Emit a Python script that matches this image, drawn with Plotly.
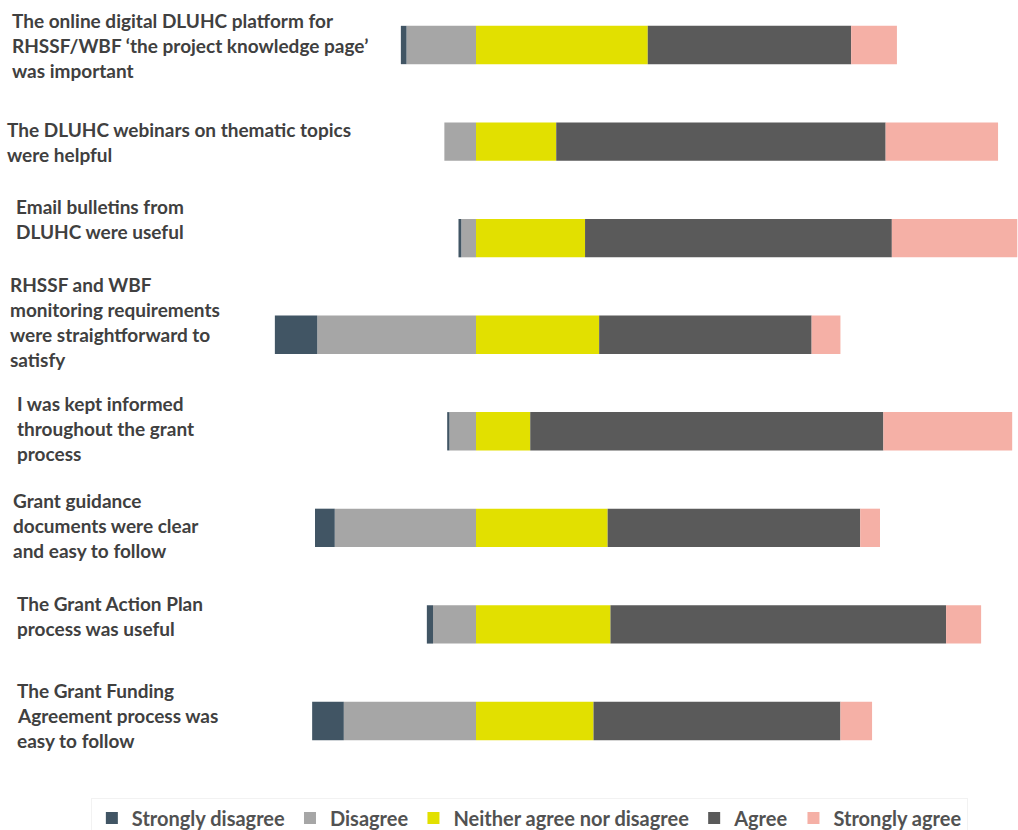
import plotly.graph_objects as go

# Survey statements (top to bottom) and response shares in percent
statements = [
    "The online digital DLUHC platform for<br>RHSSF/WBF ‘the project knowledge page’<br>was important",
    "The DLUHC webinars on thematic topics<br>were helpful",
    "Email bulletins from<br>DLUHC were useful",
    "RHSSF and WBF<br>monitoring requirements<br>were straightforward to<br>satisfy",
    "I was kept informed<br>throughout the grant<br>process",
    "Grant guidance<br>documents were clear<br>and easy to follow",
    "The Grant Action Plan<br>process was useful",
    "The Grant Funding<br>Agreement process was<br>easy to follow",
]

strongly_disagree = [1.0, 0.0, 0.5, 7.5, 0.4, 3.5, 1.1, 5.6]
disagree = [12.3, 5.6, 2.6, 28.1, 4.7, 25.0, 7.6, 23.4]
neither = [30.4, 14.2, 19.3, 21.8, 9.6, 23.3, 23.8, 20.8]
agree = [36.0, 58.3, 54.3, 37.6, 62.5, 44.7, 59.4, 43.7]
strongly_agree = [8.1, 19.9, 22.2, 5.1, 22.8, 3.5, 6.2, 5.6]

series_names = ["Strongly disagree", "Disagree", "Neither agree nor disagree",
                "Agree", "Strongly agree"]

colors = {
    "Strongly disagree": "#415564",
    "Disagree": "#a6a6a6",
    "Neither agree nor disagree": "#e2e000",
    "Agree": "#5a5a5a",
    "Strongly agree": "#f5b0a6",
}

W, H = 1018, 830
cats = list(range(len(statements)))

fig = go.Figure()

# Disagreement stacks to the left of zero (Disagree nearest the centre)
left = [("Disagree", disagree), ("Strongly disagree", strongly_disagree)]
right = [("Neither agree nor disagree", neither), ("Agree", agree),
         ("Strongly agree", strongly_agree)]

for name, vals in left:
    fig.add_trace(go.Bar(
        y=cats, x=[-v for v in vals], orientation="h", name=name,
        marker=dict(color=colors[name], line=dict(width=0)),
        legendrank=series_names.index(name) + 1,
        hoverinfo="skip",
    ))
for name, vals in right:
    fig.add_trace(go.Bar(
        y=cats, x=vals, orientation="h", name=name,
        marker=dict(color=colors[name], line=dict(width=0)),
        legendrank=series_names.index(name) + 1,
        hoverinfo="skip",
    ))

# Axis scaling: zero line at x=476 px, 5.65 px per percent
px_per_pct = 5.65
zero_px = 476
x_range = [-zero_px / px_per_pct, (W - zero_px) / px_per_pct]

# Category spacing and first bar centre in pixels
row_px = 96.57
first_px = 45
y_range = [(H - first_px) / row_px, -first_px / row_px]

# Statement labels, one annotation per line
label_left = [10, 5, 14, 8, 15, 11, 15, 15]
label_top = [20.7, 129.3, 206.7, 284.3, 403.3, 500, 603.3, 690]
line_px = 25

annotations = []
for text, lx, ty in zip(statements, label_left, label_top):
    for i, line in enumerate(text.split("<br>")):
        annotations.append(dict(
            text=line, xref="paper", yref="paper",
            x=lx / W, y=1 - (ty + i * line_px) / H,
            xanchor="left", yanchor="middle", showarrow=False, align="left",
            font=dict(family="Lato", size=19, color="#404040", weight=700),
        ))

fig.update_layout(
    width=W, height=H,
    margin=dict(l=0, r=0, t=0, b=0, autoexpand=False),
    barmode="relative",
    bargap=0.603,
    plot_bgcolor="white",
    paper_bgcolor="white",
    xaxis=dict(range=x_range, visible=False, fixedrange=True),
    yaxis=dict(range=y_range, visible=False, fixedrange=True),
    annotations=annotations,
    showlegend=True,
    legend=dict(
        orientation="h", x=0.520, xanchor="center", y=1 - 818 / H,
        yanchor="middle",
        font=dict(family="Lato", size=20, color="#525252", weight=700),
        bordercolor="#f2f2f2", borderwidth=1, bgcolor="rgba(0,0,0,0)",
    ),
)

fig.write_html("out.html")
